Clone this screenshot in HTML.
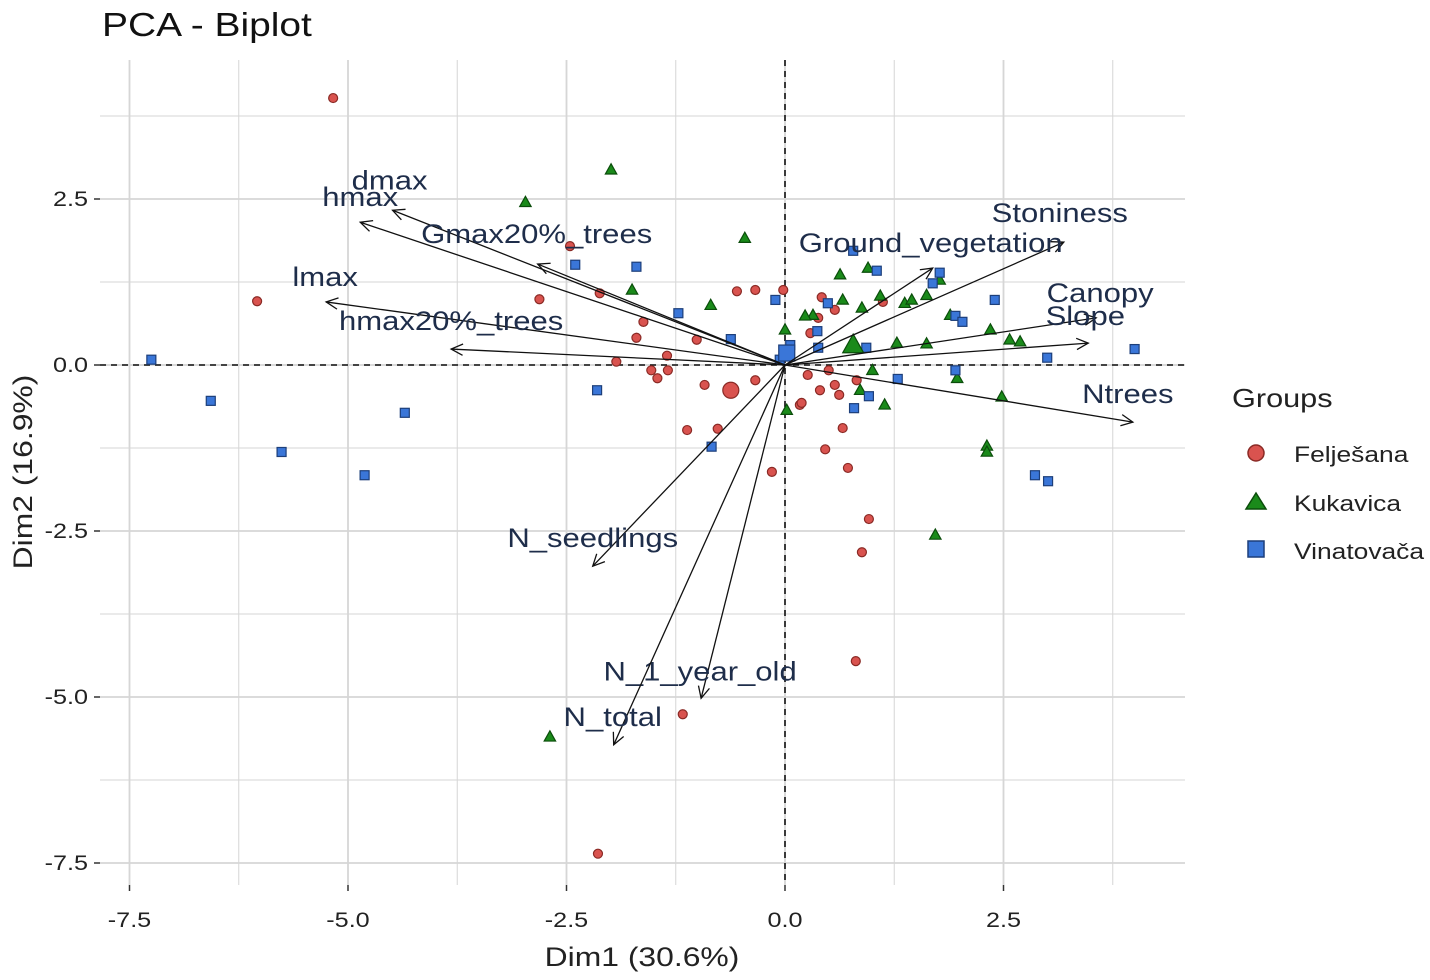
<!DOCTYPE html>
<html><head><meta charset="utf-8"><style>
html,body{margin:0;padding:0;background:#fff;}
svg{display:block;font-family:"Liberation Sans",sans-serif;}
</style></head><body>
<svg id="chart" width="1430" height="980" viewBox="0 0 1430 980" xmlns="http://www.w3.org/2000/svg">
<text transform="translate(102,36) scale(1.18,1)" font-size="33" fill="#111">PCA - Biplot</text>
<g id="grid"></g><g id="points"></g><g id="arrows"></g>
<text transform="translate(642,966) scale(1.18,1)" font-size="27" fill="#222" text-anchor="middle">Dim1 (30.6%)</text>
<text transform="translate(32,472) rotate(-90) scale(1.18,1)" font-size="27" fill="#222" text-anchor="middle">Dim2 (16.9%)</text>
<g>
<text transform="translate(1232,407) scale(1.18,1)" font-size="26" fill="#222">Groups</text>
<circle cx="1256" cy="453" r="8" fill="#d9534f" stroke="#8a2a25" stroke-width="1.5"/>
<text transform="translate(1294,462) scale(1.2,1)" font-size="22" fill="#222">Felješana</text>
<polygon points="1256,493 1266,509 1246,509" fill="#1a8a1a" stroke="#0b4d0b" stroke-width="1.5"/>
<text transform="translate(1294,511) scale(1.2,1)" font-size="22" fill="#222">Kukavica</text>
<rect x="1248" y="541" width="16" height="16" fill="#3a76d8" stroke="#1d3f7a" stroke-width="1.5"/>
<text transform="translate(1294,559) scale(1.2,1)" font-size="22" fill="#222">Vinatovača</text>
</g>
</svg>
<script>
const xTicks=[-7.5,-5.0,-2.5,0.0,2.5];
const yTicks=[2.5,0.0,-2.5,-5.0,-7.5];
const redX=[-5.17,-6.04,-2.46,-2.81,-2.12,-1.62,-1.70,-1.93,-1.53,-1.35,-1.34,-1.46,-0.92,-1.01,-1.12,-0.77,-0.55,-0.34,-0.34,-0.02,-0.15,0.17,0.26,0.40,0.50,0.57,0.42,0.57,0.38,0.29,0.62,0.66,0.72,0.46,0.96,0.88,0.81,-1.17,-2.14,1.12,0.19,0.82];
const redY=[4.02,0.96,1.79,0.99,1.08,0.65,0.41,0.05,-0.08,0.14,-0.08,-0.20,-0.30,0.38,-0.98,-0.96,1.11,1.13,-0.23,1.13,-1.61,-0.60,-0.15,-0.38,-0.08,-0.30,1.02,0.83,0.71,0.48,-0.45,-0.95,-1.55,-1.27,-2.32,-2.82,-4.46,-5.26,-7.36,0.95,-0.57,-0.23];
const greenX=[-2.97,-1.99,-0.46,-1.75,-0.85,0.95,0.63,1.09,0.66,0.32,0.00,0.23,0.88,1.37,1.45,1.62,1.77,1.89,2.35,2.57,2.69,2.48,1.97,1.62,1.28,1.00,1.14,0.86,0.02,2.31,2.31,1.72,-2.69];
const greenY=[2.45,2.94,1.91,1.13,0.90,1.46,1.36,1.04,0.98,0.75,0.53,0.74,0.86,0.93,0.98,1.05,1.28,0.75,0.53,0.38,0.35,-0.48,-0.20,0.32,0.33,-0.08,-0.60,-0.38,-0.68,-1.22,-1.31,-2.56,-5.60];
const blueX=[-7.25,-6.57,-5.76,-4.81,-4.35,-2.40,-1.70,-2.15,-0.84,-1.22,-0.62,-0.11,0.37,0.78,1.05,1.77,1.69,1.95,2.03,2.40,3.00,4.00,2.86,3.01,0.79,0.96,1.29,1.95,0.38,0.93,0.49,0.06,-0.06];
const blueY=[0.08,-0.54,-1.31,-1.66,-0.72,1.51,1.48,-0.38,-1.23,0.78,0.39,0.98,0.51,1.72,1.42,1.39,1.23,0.74,0.65,0.98,0.11,0.24,-1.66,-1.75,-0.65,-0.47,-0.21,-0.08,0.26,0.26,0.93,0.30,0.08];
const groupMeanX=[-0.62,0.78,0.02];
const groupMeanY=[-0.38,0.30,0.18];
const varNames=["dmax","hmax","Gmax20%_trees","lmax","hmax20%_trees","Stoniness","Ground_vegetation","Canopy","Slope","Ntrees","N_seedlings","N_1_year_old","N_total"];
const varX=[-4.49,-4.86,-2.83,-5.25,-3.82,3.19,1.69,3.56,3.47,3.98,-2.20,-0.96,-1.96];
const varY=[2.33,2.15,1.52,0.95,0.24,1.85,1.46,0.71,0.33,-0.86,-3.03,-5.02,-5.72];
const labDx=[-3,0,-1,-1,0,-4,-2,4,-3,-5,0,-1,-1];
const labDy=[-30,-25,-30,-25,-28,-29,-25,-25,-27,-28,-28,-27,-28];

const X=v=>785+v*87.4, Y=v=>365-v*66.4;
const NS="http://www.w3.org/2000/svg";
function mk(tag,attrs,parent){const e=document.createElementNS(NS,tag);for(const k in attrs)e.setAttribute(k,attrs[k]);parent.appendChild(e);return e;}
const grid=document.getElementById('grid'),pts=document.getElementById('points'),arr=document.getElementById('arrows');
const L=100,R=1185,T=60,B=885;
for(let v=-8.75;v<=4.5;v+=1.25){const x=X(v);if(x<L||x>R)continue;const major=Math.abs(v/2.5-Math.round(v/2.5))<1e-6;
 const g=mk('line',{x1:x,x2:x,y1:T,y2:B,stroke:'#d6d6d6','stroke-width':major?1.8:1},grid);
 
 }
for(let v=-8.75;v<=6;v+=1.25){const y=Y(v);if(y<T||y>B)continue;const major=Math.abs(v/2.5-Math.round(v/2.5))<1e-6;
 const g=mk('line',{x1:L,x2:R,y1:y,y2:y,stroke:'#d6d6d6','stroke-width':major?1.8:1},grid);
 
 }
xTicks.forEach(t=>{const e=mk('text',{transform:`translate(${X(t)},927) scale(1.2,1)`,'font-size':21,fill:'#222','text-anchor':'middle'},grid);e.textContent=t.toFixed(1);
 
 
 const k=mk('line',{x1:X(t),x2:X(t),y1:B,y2:B+6,stroke:'#333','stroke-width':1.5},grid);
 
 });
yTicks.forEach(t=>{const e=mk('text',{transform:`translate(88,${Y(t)+7}) scale(1.2,1)`,'font-size':21,fill:'#222','text-anchor':'end'},grid);e.textContent=t.toFixed(1);
 
 
 const k=mk('line',{x1:L-6,x2:L,y1:Y(t),y2:Y(t),stroke:'#333','stroke-width':1.5},grid);
 
 });
const zx=mk('line',{x1:X(0),x2:X(0),y1:T,y2:B,stroke:'#111','stroke-width':1.6,'stroke-dasharray':'6,5'},grid);


const zy=mk('line',{x1:L,x2:R,y1:Y(0),y2:Y(0),stroke:'#111','stroke-width':1.6,'stroke-dasharray':'6,5'},grid);


function circ(x,y,r,nm){const e=mk('circle',{cx:X(x),cy:Y(y),r:r,fill:'#d9534f',stroke:'#8a2a25','stroke-width':1.2},pts);
 
 }
function tri(x,y,s,nm){const cx=X(x),cy=Y(y);const e=mk('polygon',{points:`${cx},${cy-s} ${cx+s*0.95},${cy+s*0.7} ${cx-s*0.95},${cy+s*0.7}`,fill:'#1a8a1a',stroke:'#0b4d0b','stroke-width':1.2},pts);
 
 }
function sq(x,y,s,nm){const e=mk('rect',{x:X(x)-s,y:Y(y)-s,width:2*s,height:2*s,fill:'#3a76d8',stroke:'#1d3f7a','stroke-width':1.2},pts);
 
 }
redX.forEach((v,i)=>circ(v,redY[i],4.5,'feljesana-point'));
greenX.forEach((v,i)=>tri(v,greenY[i],6,'kukavica-point'));
blueX.forEach((v,i)=>sq(v,blueY[i],4.5,'vinatovaca-point'));
circ(groupMeanX[0],groupMeanY[0],8,'feljesana-mean');
tri(groupMeanX[1],groupMeanY[1],11,'kukavica-mean');
sq(groupMeanX[2],groupMeanY[2],8,'vinatovaca-mean');
varNames.forEach((n,i)=>{const x1=X(0),y1=Y(0),x2=X(varX[i]),y2=Y(varY[i]);
 const g=mk('g',{},arr);
 
 
 mk('line',{x1,y1,x2,y2,stroke:'#111','stroke-width':1.3},g);
 const a=Math.atan2(y2-y1,x2-x1),h=13,w=0.45;
 mk('polyline',{points:`${x2-h*Math.cos(a-w)},${y2-h*Math.sin(a-w)} ${x2},${y2} ${x2-h*Math.cos(a+w)},${y2-h*Math.sin(a+w)}`,fill:'none',stroke:'#111','stroke-width':1.3},g);
 const t=mk('text',{transform:`translate(${x2+labDx[i]},${y2+labDy[i]+9}) scale(1.15,1)`,'font-size':27,fill:'#1e2d4a','text-anchor':'middle'},g);t.textContent=n;});
</script>
</body></html>
